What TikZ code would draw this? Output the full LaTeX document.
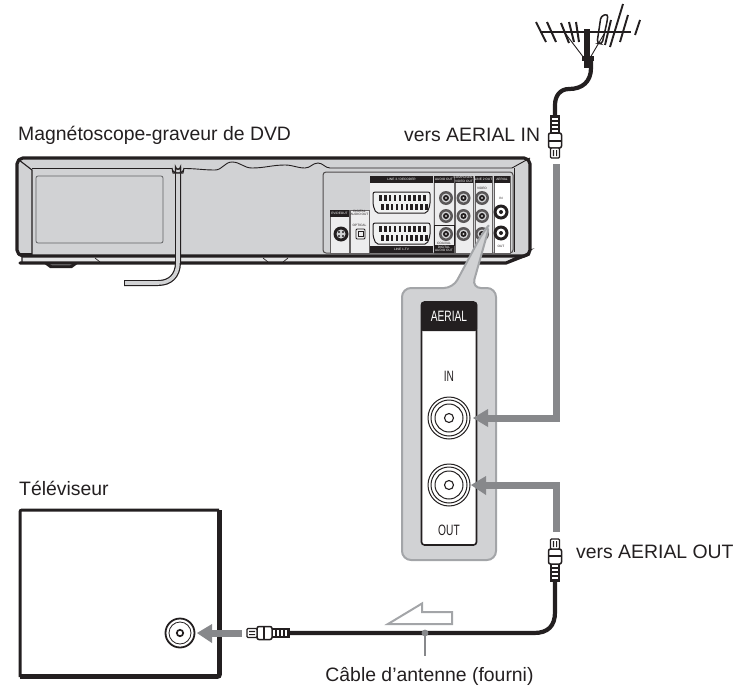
\documentclass[tikz,border=0pt]{standalone}
\usepackage{fontspec}
\setmainfont{Liberation Sans}
\newfontfamily\narrowfont[FakeStretch=0.68]{Liberation Sans}
\usetikzlibrary{calc}
\usetikzlibrary{positioning}
\usetikzlibrary{arrows.meta}

\definecolor{bodygray}{HTML}{D1D2D4}
\definecolor{edgegray}{HTML}{A3A5A8}
\definecolor{cablegray}{HTML}{87888B}
\definecolor{inkblack}{HTML}{231F20}

\tikzset{
  caption/.style={text=inkblack,font=\fontsize{19.4}{21}\selectfont,inner sep=0pt},
  paneltext/.style={text=inkblack,font=\narrowfont\fontsize{15}{16}\selectfont,inner sep=0pt},
  tinytext/.style={text=inkblack,font=\fontsize{3.2}{3.6}\selectfont,inner sep=0pt,align=center},
  tinywhite/.style={tinytext,text=white},
  thinline/.style={draw=inkblack,line width=1pt},
  feedline/.style={draw=cablegray,line width=7pt},
  feedhead/.style={fill=cablegray,draw=none},
  blackcable/.style={draw=inkblack,line width=4.2pt},
  pics/plug/.style={code={
    \fill[inkblack] (-5,0) rectangle (5,18);
    \foreach \yy in {3,7,11,15}
      \fill[white] (-3,\yy) rectangle (3,\yy+2);
    \draw[thinline,line width=1.5pt,fill=white,rounded corners=2pt] (-6.5,18) rectangle (6.5,33);
    \fill[inkblack] (-6.5,25) rectangle (6.5,27);
    \draw[thinline,line width=1.4pt,fill=white,rounded corners=1pt] (-4.5,33) rectangle (4.5,43);
    \fill[inkblack] (-2.2,35) rectangle (-1,41) (1,35) rectangle (2.2,41);
  }},
  pics/bigjack/.style={code={
    \draw[thinline,fill=white] (0,0) circle (21);
    \draw[thinline] (0,0) circle (18);
    \draw[thinline] (0,0) circle (14);
    \draw[thinline,line width=1.1pt] (0,0) circle (4.5);
  }},
  pics/rearjack/.style={code={
    \fill[inkblack!75] (0,0) circle (7);
    \fill[bodygray] (0,0) circle (4.5);
    \fill[inkblack] (0,0) circle (3);
    \fill[white!80!black] (0,0) circle (1.2);
  }},
  pics/aerialjack/.style={code={
    \fill[inkblack] (0,0) circle (7.5);
    \fill[white] (0,0) circle (4.5);
    \fill[inkblack] (0,0) circle (2);
  }},
  pics/scart/.style={code={
    \draw[inkblack,line width=1pt,fill=white!70!bodygray,rounded corners=2pt]
      (0,0) -- (57,0) -- (57,13) -- (54,21) -- (3,21) -- (0,13) -- cycle;
    \foreach \ii in {0,...,9} {
      \fill[inkblack] (6+\ii*4.9,3) rectangle (8.6+\ii*4.9,9);
      \fill[inkblack] (8+\ii*4.9,12) rectangle (10.6+\ii*4.9,18);
    }
  }},
}

\begin{document}
\begin{tikzpicture}[x=1pt,y=-1pt]

  \useasboundingbox (0,0) rectangle (737,696);

  % recorder
  \draw[inkblack,line width=1.2pt,fill=white!40!bodygray] (22,256) -- (505,256) -- (530,250) -- (505,263) -- (22,263) -- cycle;
  \fill[inkblack] (42,262) -- (80,262) -- (72,268) -- (50,268) -- cycle;
  \fill[bodygray] (46,262) -- (76,262) -- (70,265) -- (52,265) -- cycle;
  \draw[inkblack,line width=3.2pt,fill=bodygray,rounded corners=2pt]
    (21,158) -- (526,158) -- (530,162) -- (530,252) -- (526,256) -- (21,256) -- (17,252) -- (17,162) -- cycle;
  \draw[inkblack,line width=3.2pt,line cap=round] (20,263) -- (506,263) -- (529,254);
  \draw[inkblack,line width=1.1pt] (19,160) -- (32,170) -- (32,255);
  \draw[inkblack,line width=1.1pt] (18,254) -- (32,254);
  \draw[inkblack,line width=0.9pt] (32,168.5) -- (172,168.5);
  \draw[inkblack,line width=0.9pt] (184,168.5) to[out=0,in=180] (215,170) to[out=0,in=180] (232,162)
    to[out=0,in=180] (252,168) to[out=0,in=180] (285,165) to[out=0,in=180] (305,168)
    to[out=0,in=180] (318,163) to[out=0,in=180] (330,168) -- (512,168) -- (530,158);
  \draw[inkblack,line width=0.9pt] (514,168) -- (514,252);
  \draw[edgegray!60!black,line width=0.8pt,rounded corners=2pt] (36,176) rectangle (163,243);
  \draw[inkblack,line width=0.7pt] (95,258) -- (100,262) (263,258) -- (268,262) (283,262) -- (288,258);

  % cable of the recorder
  \draw[inkblack,line width=6pt] (178,167) -- (178,262) .. controls (178,276) and (170,283) .. (158,283) -- (124,283);
  \draw[bodygray,line width=3.6pt] (178,166) -- (178,262) .. controls (178,276) and (170,283) .. (158,283) -- (125,283);
  \draw[inkblack,line width=1pt,fill=bodygray] (172,168) to[out=-90,in=-90,looseness=1.4] (184,168) -- (183,173) -- (173,173) -- cycle;
  \draw[inkblack,line width=1.4pt,fill=bodygray] (175.5,172) -- (175.5,167) to[out=-90,in=-90,looseness=1.5] (180.5,167) -- (180.5,172);

  % rear panel
  \draw[inkblack!80,line width=1pt,fill=bodygray,rounded corners=3pt] (323,172) rectangle (513,253);
  \fill[white!60!bodygray] (330,210) rectangle (349,253);
  \fill[white!60!bodygray] (350,210) rectangle (369,253);
  \fill[white!60!bodygray] (370,176) rectangle (433,253);
  \fill[white!60!bodygray] (434,176) rectangle (454,253);
  \fill[white!60!bodygray] (455,176) rectangle (473,253);
  \fill[white!60!bodygray] (475,176) rectangle (492,253);
  \fill[white] (494,176) rectangle (510,253);
  \draw[inkblack!70,line width=0.6pt] (330,210) rectangle (349,253) (350,210) rectangle (369,253)
    (434,176) rectangle (454,253) (455,176) rectangle (473,253) (475,176) rectangle (492,253) (494,176) rectangle (510,253);
  \fill[inkblack] (330,210) rectangle (349,216.5);
  \fill[inkblack] (370,176) rectangle (433,183);
  \fill[inkblack] (370,246) rectangle (433,253);
  \fill[inkblack] (434,176) rectangle (454,183);
  \fill[inkblack] (455,176) rectangle (473,183);
  \fill[inkblack] (475,176) rectangle (492,183);
  \fill[inkblack] (494,176) rectangle (510,183);
  \fill[inkblack] (434,245) rectangle (454,253);
  \draw[inkblack,line width=0.7pt] (434,225) rectangle (454,245);

  \node[tinywhite] (evideo) at (339.5,213) {EVIDEOUT};
  \node[tinytext] (digital) at (359.5,213) {DIGITAL\\AUDIO OUT};
  \node[tinytext] (optical) at (359.5,225) {OPTICAL};
  \node[tinywhite] (linethree) at (401.5,179.5) {LINE 3 / DECODER};
  \node[tinywhite] (lineone) at (401.5,249.5) {LINE 1-TV};
  \node[tinywhite] (audioout) at (444,179.5) {AUDIO OUT};
  \node[tinywhite] (component) at (464,179.5) {COMPONENT\\VIDEO OUT};
  \node[tinywhite] (linetwo) at (483.5,179.5) {LINE 2 OUT};
  \node[tinywhite] (aerialtop) at (502,179.5) {AERIAL};
  \node[tinytext] (coaxial) at (444,243) {COAXIAL};
  \node[tinywhite] (digitaltwo) at (444,249) {DIGITAL\\AUDIO OUT};
  \node[tinytext] (videotext) at (482,188) {VIDEO};
  \node[tinytext] (intext) at (501,198) {IN};
  \node[tinytext] (outtext) at (501,246) {OUT};

  \pic at (373,192) {scart};
  \pic at (373,223) {scart};
  \foreach \xx in {446,463.5,482} {
    \pic at (\xx,198) {rearjack};
    \pic at (\xx,216) {rearjack};
    \pic at (\xx,234) {rearjack};
  }
  \pic at (501,212) {aerialjack};
  \pic at (501,233) {aerialjack};

  \fill[inkblack] (341,234) circle (7.5);
  \fill[bodygray] (341,234) circle (4.5);
  \fill[inkblack] (339,232) circle (1.2) (343,232) circle (1.2) (339,236) circle (1.2) (343,236) circle (1.2);
  \draw[inkblack,line width=0.9pt,rounded corners=1pt] (356,229) rectangle (365,239);
  \draw[inkblack,line width=0.7pt] (358,231) -- (363,231) -- (363,236) -- (358,236) -- cycle;

  % blow-up of the aerial sockets
  \draw[edgegray,line width=2pt,fill=bodygray,rounded corners=9pt]
    (402,288) -- (453,288) -- (483,232) -- (490,224) -- (472,288) -- (496,288) -- (496,560) -- (402,560) -- cycle;
  \draw[inkblack,line width=1.6pt,fill=white,rounded corners=3pt] (421.5,302) rectangle (476.5,545);
  \fill[inkblack,rounded corners=2pt] (421,302) -- (477,302) -- (477,331) -- (421,331) -- cycle;
  \node[paneltext,text=white] (aeriallabel) at (449,316.5) {AERIAL};
  \node[paneltext] (inlabel) at (449,376) {IN};
  \node[paneltext] (outlabel) at (449,530) {OUT};
  \pic at (449,418) {bigjack};
  \pic at (449,485) {bigjack};

  % television
  \draw[inkblack,line width=3pt,rounded corners=2pt] (20,677) -- (20,510) -- (219,510);
  \draw[inkblack,line width=4.6pt,rounded corners=2pt] (20,676.5) -- (219.5,676.5) -- (219.5,510);
  \draw[inkblack,line width=1.8pt] (180,633) circle (14.5);
  \draw[inkblack,line width=0.8pt] (180,633) circle (11);
  \draw[inkblack,line width=1.7pt] (180,633) circle (3.2);

  % antenna
  \draw[inkblack,line width=2.3pt] (540,32) -- (631,32);
  \draw[inkblack,line width=2pt]
    (536,22) -- (546,42) (547,22) -- (556,42) (561,23) -- (569,43) (569,22) -- (574,42) (576,22) -- (579,42);
  \draw[inkblack,line width=1.9pt] (623,4) -- (610,47) (628,15) -- (620,42) (611,20) -- (605,45) (640,20) -- (635,35);
  \draw[inkblack,line width=1.5pt,rounded corners=3pt] (597,43) -- (601,16) -- (608,14) -- (607,22) -- (602,44) -- cycle;
  \draw[inkblack,line width=0.9pt] (565,33) -- (584,58) (604,34) -- (590,58);
  \draw[inkblack,line width=5.4pt] (587,29) -- (587,68);
  \fill[inkblack] (582,56) rectangle (594,61);

  % cables
  \coordinate (plugin) at (555,115);
  \coordinate (plugout) at (555,582);
  \coordinate (plugtv) at (290,633);

  \draw[blackcable] (591,60) -- (591,68) .. controls (591,82) and (582,89) .. (569,89) .. controls (560,89) and (555,96) .. (555,105) -- (plugin);
  \draw[blackcable] (plugout) -- (555,612) .. controls (555,626) and (548,633) .. (534,633) -- (plugtv);
  \pic at (plugin) {plug};
  \pic[rotate=180] at (plugout) {plug};
  \pic[rotate=-90] at (plugtv) {plug};

  % feed arrows
  \draw[feedline] (556,164) -- (556,418) -- (486,418);
  \fill[feedhead] (473,418) -- (488,409) -- (488,427) -- cycle;
  \draw[feedline] (556,532) -- (556,485) -- (484,485);
  \fill[feedhead] (471,485) -- (486,476) -- (486,495) -- cycle;
  \draw[feedline] (242,633) -- (210,633);
  \fill[feedhead] (197,633) -- (212,624) -- (212,643) -- cycle;

  % direction mark and label stem
  \draw[edgegray,line width=2pt] (388,624) -- (422,603.5) -- (422,612) -- (452,612) -- (452,624) -- cycle;
  \coordinate (stemtop) at (425,633);
  \coordinate (stemend) at (425,656);
  \draw[cablegray,line width=2pt] (stemtop) -- (stemend);
  \fill[cablegray] (stemtop) circle (3.4);

  % labels
  \node[caption,anchor=west] (recorder) at (18,135) {Magnétoscope-graveur de DVD};
  \node[caption,anchor=west] (toin) at (404,135) {vers AERIAL IN};
  \node[caption,anchor=west] (toout) at (576,552) {vers AERIAL OUT};
  \node[caption,anchor=west] (tele) at (19,488) {Téléviseur};
  \node[caption] (cable) at (429.5,676) {Câble d’antenne (fourni)};

\end{tikzpicture}
\end{document}
